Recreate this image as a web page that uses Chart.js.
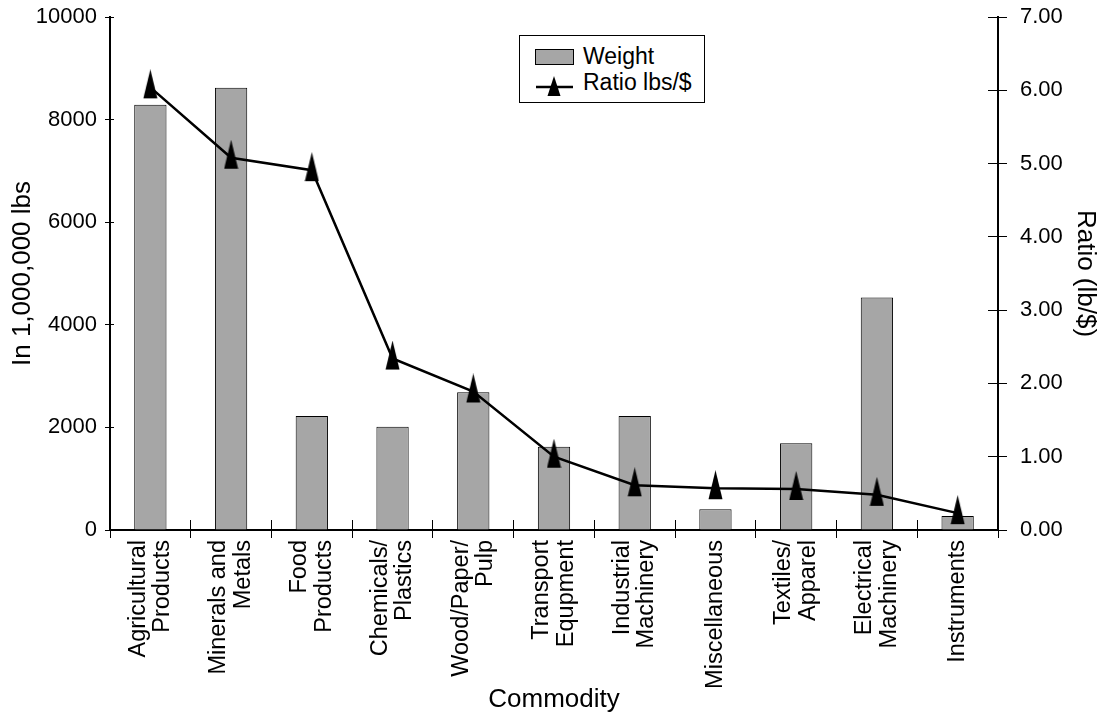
<!DOCTYPE html>
<html>
<head>
<meta charset="utf-8">
<title>Weight and ratio by commodity</title>
<script src="https://cdn.jsdelivr.net/npm/chart.js@4.4.1/dist/chart.umd.min.js"></script>
<style>
  html, body { margin: 0; padding: 0; background: #fff; }
  #wrap { position: relative; width: 1104px; height: 719px; }
  #legend {
    position: absolute; left: 519px; top: 35px; width: 184px; height: 66px;
    border: 1px solid #000; background: #fff;
    font-family: "Liberation Sans", Arial, sans-serif; font-size: 23px; color: #000;
  }
  #legend span { position: absolute; left: 63px; line-height: 23px; white-space: nowrap; }
  #legend svg { position: absolute; left: 0; top: 0; }
</style>
</head>
<body>
<div id="wrap">
  <canvas id="chart" width="1104" height="719"></canvas>
  <div id="legend">
    <svg width="184" height="66">
      <rect x="15.5" y="13.5" width="38" height="15" fill="#a6a6a6" stroke="#000" stroke-width="1"></rect>
      <line x1="16" y1="51" x2="53" y2="51" stroke="#000" stroke-width="2.5"></line>
      <polygon points="34,40 40.5,60 27.5,60" fill="#000"></polygon>
    </svg>
    <span style="top:9px">Weight</span>
    <span style="top:35px">Ratio lbs/$</span>
  </div>
</div>
<script>
const categories = [
  ["Agricultural", "Products"],
  ["Minerals and", "Metals"],
  ["Food", "Products"],
  ["Chemicals/", "Plastics"],
  ["Wood/Paper/", "Pulp"],
  ["Transport", "Equpment"],
  ["Industrial", "Machinery"],
  "Miscellaneous",
  ["Textiles/", "Apparel"],
  ["Electrical", "Machinery"],
  "Instruments"
];
const weight = [8290, 8620, 2220, 2015, 2685, 1625, 2220, 405, 1690, 4530, 275];
const ratio = [6.04, 5.08, 4.91, 2.34, 1.89, 1.00, 0.61, 0.57, 0.56, 0.48, 0.23];
const weightTicks = [0, 2000, 4000, 6000, 8000, 10000];
const ratioTicks = [0, 1, 2, 3, 4, 5, 6, 7];

const FONT = "'Liberation Sans', Arial, sans-serif";

// tall black triangle marker, the point sits a bit below its middle
function triangleMarker() {
  const c = document.createElement("canvas");
  c.width = 15;
  c.height = 36;
  const g = c.getContext("2d");
  g.fillStyle = "#000";
  g.beginPath();
  g.moveTo(7.5, 0);
  g.lineTo(14.5, 29);
  g.lineTo(0.5, 29);
  g.closePath();
  g.fill();
  return c;
}

// two-line category labels: center the pair of lines on the tick
const centerTwoLineLabels = {
  id: "centerTwoLineLabels",
  beforeDraw(chart) {
    const s = chart.scales.x;
    s.getLabelItems().forEach((item) => {
      if (Array.isArray(item.label) && !item._centered) {
        item.options.translation[0] -= item.font.lineHeight / 2;
        item._centered = true;
      }
    });
  },
};

// tick marks that cross the axis line, like the original
const crossingTicks = {
  id: "crossingTicks",
  beforeDraw(chart) {
    const x = chart.scales.x, y = chart.scales.y, y1 = chart.scales.y1;
    const items = (s) => s._gridLineItems || (s._gridLineItems = s._computeGridLineItems(chart.chartArea));
    items(x).forEach((it) => { it.ty1 = x.top - 10; it.ty2 = x.top + 8; });
    items(y).forEach((it) => { it.tx1 = y.right - 5; it.tx2 = y.right + 4; });
    items(y1).forEach((it) => { it.tx1 = y1.left - 10; it.tx2 = y1.left + 9; });
  },
};

function noEdgePadding(s) {
  s.paddingTop = 0;
  s.paddingBottom = 0;
}

document.addEventListener("DOMContentLoaded", () => {
  const marker = triangleMarker();
  const ctx = document.getElementById("chart").getContext("2d");

  new Chart(ctx, {
    data: {
      labels: categories,
      datasets: [
        {
          type: "line",
          label: "Ratio lbs/$",
          data: ratio,
          yAxisID: "y1",
          borderColor: "#000",
          borderWidth: 2.5,
          tension: 0,
          pointStyle: marker,
          pointRadius: 10,
          order: 0,
        },
        {
          type: "bar",
          label: "Weight",
          data: weight,
          yAxisID: "y",
          backgroundColor: "#a6a6a6",
          borderColor: "#000",
          borderWidth: 1,
          barPercentage: 0.4,
          categoryPercentage: 1.0,
          order: 1,
        },
      ],
    },
    plugins: [centerTwoLineLabels, crossingTicks],
    options: {
      responsive: false,
      animation: false,
      devicePixelRatio: 1,
      layout: { padding: { top: 17, left: 0, right: 0, bottom: 0 } },
      plugins: {
        legend: { display: false },
        tooltip: { enabled: false },
      },
      scales: {
        x: {
          offset: true,
          afterFit: (s) => { s.height = 189; },
          grid: { drawOnChartArea: false, offset: true, tickLength: 8, color: "#000", tickWidth: 1 },
          border: { display: true, color: "#000", width: 2 },
          ticks: {
            autoSkip: false,
            minRotation: 90,
            maxRotation: 90,
            padding: 2,
            color: "#000",
            font: { family: FONT, size: 23.5, lineHeight: 1.04 },
          },
          title: {
            display: true,
            text: "Commodity",
            color: "#000",
            font: { family: FONT, size: 26 },
            padding: { top: 0, bottom: 4 },
          },
        },
        y: {
          position: "left",
          min: 0,
          max: 10000,
          afterFit: (s) => { s.width = 110; noEdgePadding(s); },
          afterBuildTicks: (s) => { s.ticks = weightTicks.map((v) => ({ value: v })); },
          grid: { drawOnChartArea: false, tickLength: 6, color: "#000" },
          border: { display: true, color: "#000", width: 2 },
          ticks: {
            padding: 7,
            color: "#000",
            font: { family: FONT, size: 22 },
            callback: (v) => String(v),
          },
          title: {
            display: true,
            text: "In 1,000,000 lbs",
            color: "#000",
            font: { family: FONT, size: 26 },
            padding: { top: 7, bottom: 0 },
          },
        },
        y1: {
          position: "right",
          min: 0,
          max: 7,
          afterFit: (s) => { s.width = 106; noEdgePadding(s); },
          afterBuildTicks: (s) => { s.ticks = ratioTicks.map((v) => ({ value: v })); },
          grid: { drawOnChartArea: false, tickLength: 8, color: "#000" },
          border: { display: true, color: "#000", width: 2 },
          ticks: {
            padding: 14,
            color: "#000",
            font: { family: FONT, size: 22 },
            callback: (v) => Number(v).toFixed(2),
          },
          title: {
            display: true,
            text: "Ratio (lb/$)",
            color: "#000",
            font: { family: FONT, size: 26 },
            padding: { top: 3, bottom: 0 },
          },
        },
      },
    },
  });
});
</script>
</body>
</html>
